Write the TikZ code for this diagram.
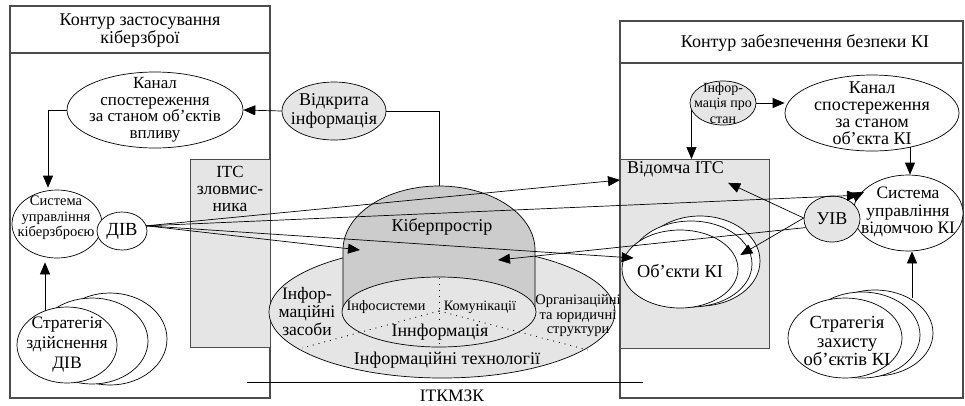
\documentclass[tikz,border=0pt]{standalone}
\usepackage{fontspec}
\setmainfont{Liberation Serif}
\usetikzlibrary{shapes.geometric,arrows.meta,calc}
\definecolor{lg}{gray}{0.9}
\definecolor{dg}{gray}{0.8}
\definecolor{bx}{gray}{0.3}
\begin{document}
\begin{tikzpicture}[x=1pt,y=-1pt,
  ell/.style={draw, ellipse, inner sep=0pt, line width=0.7pt, fill=white},
  txt/.style={align=center, inner sep=0pt},
  fsz/.style 2 args={font=\fontsize{#1}{#2}\selectfont},
  arr/.style={-{Triangle[length=12pt,width=10pt]}, line width=0.7pt},
  ln/.style={line width=0.7pt},
  frame/.style={draw=bx, line width=1.1pt},
  dots/.style={line width=0.9pt, dash pattern=on 0.9pt off 5pt},
]
\useasboundingbox (0,0) rectangle (965,405);

% outer frames
\draw[frame] (10,6) rectangle (270,398);
\draw[frame] (10,53) -- (270,53);
\node[txt, fsz={18}{18}] (hL) at (140,31) {Контур застосування\\кіберзброї};
\draw[frame] (620,21) rectangle (963,398);
\draw[frame] (620,63) -- (963,63);
\node[txt, fsz={18}{18}] (hR) at (805,43) {Контур забезпечення безпеки КІ};

% ITC boxes
\node[frame, fill=lg, minimum width=80pt, minimum height=188pt, anchor=north west, inner sep=0pt] (itcz) at (190,159) {};
\node[txt, fsz={17}{17}] (itczA) at (230,172) {ІТС};
\node[txt, fsz={17.5}{17}] (itczB) at (230,190) {зловмис-};
\node[txt, fsz={17.5}{17}] (itczC) at (230,207) {ника};
\node[frame, fill=lg, minimum width=149pt, minimum height=189pt, anchor=north west, inner sep=0pt] (vitc) at (620,159) {};
\node[txt, fsz={18}{18}, anchor=west] (vitcL) at (627,169) {Відомча ІТС};

% centre: information technologies
\node[ell, fill=lg, minimum width=346pt, minimum height=132pt] (itE) at (442,312) {};
\fill[dg] (343,312) -- (343,250) arc[start angle=180, end angle=0, x radius=96pt, y radius=64pt] -- (535,312) -- cycle;
\draw[ln] (343,312) -- (343,250) arc[start angle=180, end angle=0, x radius=96pt, y radius=64pt] -- (535,312);
\coordinate (cybTop) at (439,186);
\coordinate (cybL) at (360,250);
\coordinate (cybR) at (498,260);
\node[ell, fill=lg, minimum width=194pt, minimum height=70pt] (infE) at (439,312) {};
\coordinate (ctr) at (439,311);
\draw[dots] (439,278) -- (439,347);
\draw[dots] (ctr) -- (302,348);
\draw[dots] (ctr) -- (588,350);
\node[txt, fsz={18}{18}] (cybT) at (442,227) {Кіберпростір};
\node[txt, fsz={17.5}{18}] (isz) at (307,312) {Інфор-\\маційні\\засоби};
\node[txt, fsz={14.3}{15}] (isys) at (386,307) {Інфосистеми};
\node[txt, fsz={14.3}{15}] (kom) at (480,307) {Комунікації};
\node[txt, fsz={18}{18}, fill=lg] (inf) at (440,332) {Іннформація};
\node[txt, fsz={14.5}{14.5}] (org) at (578,316) {Організаційні\\та юридичні\\структури};
\node[txt, fsz={18}{18}] (itT) at (447,360) {Інформаційні технології};

% left side
\node[ell, minimum width=176pt, minimum height=76pt] (canL) at (155,110) {};
\node[txt, fsz={17}{16.5}] at (canL) {Канал\\спостереження\\за станом об’єктів\\впливу};
\node[ell, fill=lg, minimum width=104pt, minimum height=58pt] (otk) at (334,111) {};
\node[txt, fsz={18}{19}] at (otk) {Відкрита\\інформація};
\node[ell, minimum width=90pt, minimum height=68pt] (sysL) at (57,224) {};
\node[txt, fsz={14.5}{15.5}] at (56,218) {Система\\управління\\кіберзброєю};
\node[ell, minimum width=50pt, minimum height=38pt] (div) at (122,231) {};
\node[txt, fsz={18.5}{18}] at (div) {ДІВ};
\node[ell, minimum width=114pt, minimum height=92pt] (stratL3) at (110,339) {};
\node[ell, minimum width=112pt, minimum height=86pt] (stratL2) at (92,341) {};
\node[ell, minimum width=100pt, minimum height=76pt] (stratL) at (67,345) {};
\node[txt, fsz={17.5}{20}] at (stratL) {Стратегія\\здійснення\\ДІВ};

% right side
\node[ell, fill=lg, minimum width=66pt, minimum height=44pt] (infoS) at (723,103) {};
\node[txt, fsz={14}{15.5}] at (infoS) {Інфор-\\мація про\\стан};
\node[ell, minimum width=174pt, minimum height=76pt] (canR) at (872,113) {};
\node[txt, fsz={18}{17}] at (canR) {Канал\\спостереження\\за станом\\об’єкта КІ};
\node[ell, minimum width=110pt, minimum height=76pt] (sysR) at (908,213) {};
\node[txt, fsz={17.5}{17.5}] at (908,212) {Система\\управління\\відомчою КІ};
\node[ell, fill=lg, minimum width=56pt, minimum height=46pt] (uiv) at (832,219) {};
\node[txt, fsz={18}{18}] at (uiv) {УІВ};
\node[ell, minimum width=120pt, minimum height=90pt] (objKI3) at (700,261) {};
\node[ell, minimum width=122pt, minimum height=86pt] (objKI2) at (691,264) {};
\node[ell, minimum width=116pt, minimum height=78pt] (objKI) at (680,269) {};
\node[txt, fsz={18.3}{18}] at (680,271) {Об’єкти КІ};
\node[ell, minimum width=116pt, minimum height=86pt] (stratR3) at (875,333) {};
\node[ell, minimum width=116pt, minimum height=86pt] (stratR2) at (862,335) {};
\node[ell, minimum width=114pt, minimum height=80pt] (stratR) at (845,338) {};
\node[txt, fsz={18.5}{18.5}] at (847,341) {Стратегія\\захисту\\об’єктів КІ};

% bottom line
\draw[ln] (247,382) -- (643,382);
\node[txt, fsz={17.5}{18}] (itkm) at (452,396) {ІТКМЗК};

% connectors
\draw[arr] (otk.west) -- (canL.east);
\draw[ln] (otk.east) -| (cybTop);
\draw[arr] (canL.west) -| ($(sysL.north)+(-9,-2)$);
\draw[arr] ($(stratL.north)+(-22,4)$) -- ($(sysL.south)+(-12,4)$);
\draw[arr] (infoS.east) -- (infoS.east -| canR.west);
\draw[arr] (infoS.193) -- (infoS.193 |- vitc.north);
\draw[arr] ($(canR.south)+(38,-4)$) -- ($(sysR.north)+(2,0)$);
\draw[arr] ($(sysR.south)+(4,47)$) -- ($(sysR.south)+(4,0)$);

\draw[arr] (div.12) -- ($(vitc.north west)+(0,21)$);
\draw[arr] (div.12) -- (sysR.160);
\draw[arr] (div.12) -- (cybL);
\draw[arr] (div.12) -- ($(objKI.west)+(12,-11)$);

\draw[arr] (uiv.178) -- ($(vitcL.south east)+(4,6)$);
\draw[arr] (uiv.178) -- ($(objKI.east)+(2,-14)$);
\draw[arr] (uiv.198) -- (cybR);
\draw[arr] (uiv.50) -- ($(uiv.50)+(16,-8)$);
\end{tikzpicture}
\end{document}
